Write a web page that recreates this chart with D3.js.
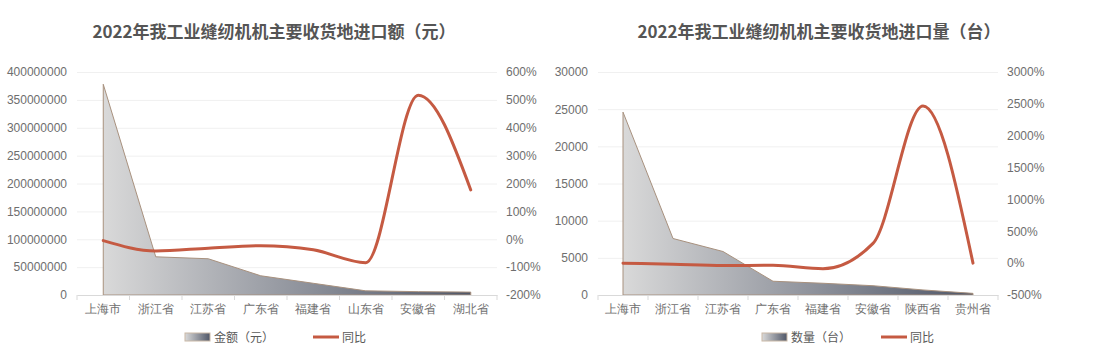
<!DOCTYPE html>
<html>
<head>
<meta charset="utf-8">
<script src="https://cdn.jsdelivr.net/npm/d3@7"></script>
<style>
  body { margin: 0; background: #fff; }
  svg { display: block; font-family: "Noto Sans CJK SC", "Noto Sans", sans-serif; }
</style>
</head>
<body>
<svg id="chart" width="1111" height="363"></svg>
<script>
// left chart: import value (yuan) by province
const amountCategories = ["上海市", "浙江省", "江苏省", "广东省", "福建省", "山东省", "安徽省", "湖北省"];
const amountValues = [378000000, 68500000, 65000000, 34500000, 21000000, 7500000, 6000000, 5200000];
const amountYoY = [-5, -42, -32, -23, -38, -84, 517, 177];
const amountTicks = [0, 50000000, 100000000, 150000000, 200000000, 250000000, 300000000, 350000000, 400000000];
const amountPctTicks = [-200, -100, 0, 100, 200, 300, 400, 500, 600];

// right chart: import quantity (units) by province
const qtyCategories = ["上海市", "浙江省", "江苏省", "广东省", "福建省", "安徽省", "陕西省", "贵州省"];
const qtyValues = [24600, 7600, 5850, 1850, 1580, 1250, 680, 220];
const qtyYoY = [0, -18, -38, -34, -88, 310, 2465, 0];
const qtyTicks = [0, 5000, 10000, 15000, 20000, 25000, 30000];
const qtyPctTicks = [-500, 0, 500, 1000, 1500, 2000, 2500, 3000];

const svg = d3.select("#chart");
const defs = svg.append("defs");

function addGradient(id) {
  const g = defs.append("linearGradient")
    .attr("id", id)
    .attr("x1", "0%").attr("y1", "0%")
    .attr("x2", "100%").attr("y2", "0%");
  g.append("stop").attr("offset", "0%").attr("stop-color", "#d9d9d9");
  g.append("stop").attr("offset", "100%").attr("stop-color", "#505768");
}
addGradient("area-grad-left");
addGradient("area-grad-right");
addGradient("legend-grad");

function drawChart(opts) {
  const root = svg.append("g");

  const x = d3.scaleBand()
    .domain(opts.categories)
    .range([opts.left, opts.right]);
  const y = d3.scaleLinear()
    .domain(d3.extent(opts.ticks))
    .range([295, 72]);
  const yPct = d3.scaleLinear()
    .domain(d3.extent(opts.pctTicks))
    .range([295, 72]);
  const cx = d => x(d) + x.bandwidth() / 2;

  // gridlines
  const grid = root.append("g")
    .attr("transform", `translate(${opts.left},0)`)
    .call(d3.axisRight(y).tickValues(opts.ticks).tickSize(opts.right - opts.left).tickFormat(""));
  grid.select(".domain").remove();
  grid.selectAll("line").attr("stroke", "#f0f0f0");

  // left axis labels
  const yAxis = root.append("g")
    .attr("transform", `translate(${opts.left - 7},0)`)
    .call(d3.axisLeft(y).tickValues(opts.ticks).tickSize(0).tickFormat(d3.format("d")));
  yAxis.select(".domain").remove();
  yAxis.selectAll("text")
    .attr("fill", "#6e6e6e")
    .style("font-size", "12px");

  // right axis labels
  const yAxisR = root.append("g")
    .attr("transform", `translate(${opts.right + 6},0)`)
    .call(d3.axisRight(yPct).tickValues(opts.pctTicks).tickSize(0).tickFormat(d => d + "%"));
  yAxisR.select(".domain").remove();
  yAxisR.selectAll("text")
    .attr("fill", "#6e6e6e")
    .style("font-size", "12px");

  // area
  const data = opts.categories.map((c, i) => ({ c, v: opts.values[i], p: opts.yoy[i] }));
  root.append("path")
    .datum(data)
    .attr("fill", `url(#${opts.gradId})`)
    .attr("stroke", "#a8917e")
    .attr("stroke-width", 1)
    .attr("d", d3.area()
      .x(d => cx(d.c))
      .y0(y(0))
      .y1(d => y(d.v)));

  // x axis
  const xAxis = root.append("g")
    .attr("transform", "translate(0,295)")
    .call(d3.axisBottom(x).tickSize(0));
  xAxis.select(".domain").attr("stroke", "#d9d9d9");
  xAxis.selectAll("text")
    .attr("fill", "#6e6e6e")
    .attr("dy", "1.25em")
    .style("font-size", "12px");
  xAxis.selectAll(".tick line").remove();
  root.append("g")
    .selectAll("line")
    .data(d3.range(opts.categories.length + 1))
    .join("line")
    .attr("x1", i => opts.left + i * x.step())
    .attr("x2", i => opts.left + i * x.step())
    .attr("y1", 295).attr("y2", 300)
    .attr("stroke", "#d9d9d9");

  // yoy line
  root.append("path")
    .datum(data)
    .attr("fill", "none")
    .attr("stroke", "#c55a42")
    .attr("stroke-width", 3)
    .attr("stroke-linecap", "round")
    .attr("d", d3.line()
      .x(d => cx(d.c))
      .y(d => yPct(d.p))
      .curve(d3.curveMonotoneX));

  // title
  root.append("text")
    .attr("x", opts.titleX)
    .attr("y", 38)
    .attr("text-anchor", "middle")
    .attr("fill", "#555555")
    .style("font-size", "17px")
    .style("font-weight", "bold")
    .text(opts.title);

  // legend
  const lg = root.append("g").attr("transform", `translate(${opts.legendX},337)`);
  lg.append("rect")
    .attr("x", 0).attr("y", -4)
    .attr("width", 25).attr("height", 8)
    .attr("fill", "url(#legend-grad)")
    .attr("stroke", "#c9b8a6");
  lg.append("text")
    .attr("x", 29).attr("y", 4.5)
    .attr("fill", "#595959")
    .style("font-size", "12px")
    .text(opts.seriesName);
  lg.append("line")
    .attr("x1", opts.lineLegendDx).attr("x2", opts.lineLegendDx + 26)
    .attr("y1", 0).attr("y2", 0)
    .attr("stroke", "#c55a42")
    .attr("stroke-width", 3);
  lg.append("text")
    .attr("x", opts.lineLegendDx + 29).attr("y", 4.5)
    .attr("fill", "#595959")
    .style("font-size", "12px")
    .text("同比");
}

drawChart({
  categories: amountCategories,
  values: amountValues,
  yoy: amountYoY,
  ticks: amountTicks,
  pctTicks: amountPctTicks,
  left: 77, right: 497,
  gradId: "area-grad-left",
  title: "2022年我工业缝纫机机主要收货地进口额（元）",
  titleX: 274,
  seriesName: "金额（元）",
  legendX: 185,
  lineLegendDx: 128
});

drawChart({
  categories: qtyCategories,
  values: qtyValues,
  yoy: qtyYoY,
  ticks: qtyTicks,
  pctTicks: qtyPctTicks,
  left: 598, right: 998,
  gradId: "area-grad-right",
  title: "2022年我工业缝纫机机主要收货地进口量（台）",
  titleX: 819,
  seriesName: "数量（台）",
  legendX: 762,
  lineLegendDx: 119
});
</script>
</body>
</html>
